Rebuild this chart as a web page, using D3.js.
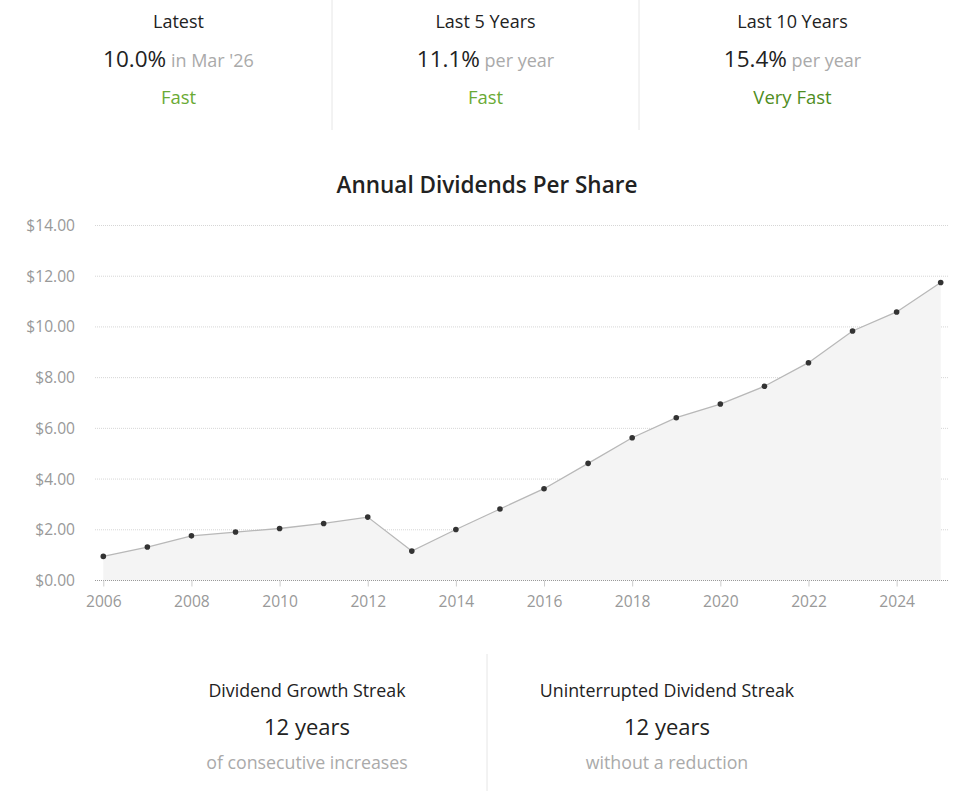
<!DOCTYPE html>
<html>
<head>
<meta charset="utf-8">
<script src="https://cdn.jsdelivr.net/npm/d3@7"></script>
<style>
  body { margin: 0; background: #fff; font-family: "Open Sans", sans-serif; }
</style>
</head>
<body>
<div id="chart"></div>
<script>
// Data
var years = [2006, 2007, 2008, 2009, 2010, 2011, 2012, 2013, 2014, 2015, 2016, 2017, 2018, 2019, 2020, 2021, 2022, 2023, 2024, 2025];
var dividends = [0.95, 1.32, 1.76, 1.91, 2.05, 2.25, 2.50, 1.16, 2.01, 2.82, 3.62, 4.62, 5.63, 6.42, 6.96, 7.66, 8.59, 9.84, 10.59, 11.75];
var yTicks = [0, 2, 4, 6, 8, 10, 12, 14];
var xTicks = [2006, 2008, 2010, 2012, 2014, 2016, 2018, 2020, 2022, 2024];

var statLabels = ["Latest", "Last 5 Years", "Last 10 Years"];
var statValues = ["10.0%", "11.1%", "15.4%"];
var statNotes = ["in Mar '26", "per year", "per year"];
var statRatings = ["Fast", "Fast", "Very Fast"];

var streakLabels = ["Dividend Growth Streak", "Uninterrupted Dividend Streak"];
var streakValues = ["12 years", "12 years"];
var streakNotes = ["of consecutive increases", "without a reduction"];

var width = 957, height = 791;
var ratingColor = {"Fast": "#6aaa35", "Very Fast": "#4f8d22"};

var svg = d3.select("#chart").append("svg")
    .attr("width", width)
    .attr("height", height)
    .style("font-family", "'Open Sans', sans-serif");

// Top stat boxes
var statX = d3.scaleBand().domain(statLabels).range([25, 946]);

svg.selectAll(".stat-divider")
    .data(statLabels.slice(1))
  .enter().append("line")
    .attr("x1", function(d) { return statX(d); })
    .attr("x2", function(d) { return statX(d); })
    .attr("y1", 0)
    .attr("y2", 130)
    .attr("stroke", "#e6e6e6");

var stat = svg.selectAll(".stat")
    .data(statLabels)
  .enter().append("g")
    .attr("transform", function(d) { return "translate(" + (statX(d) + statX.bandwidth() / 2) + ",0)"; });

stat.append("text")
    .attr("y", 28)
    .attr("text-anchor", "middle")
    .style("font-size", "18px")
    .style("fill", "#222")
    .text(function(d) { return d; });

var valText = stat.append("text")
    .attr("y", 67)
    .attr("text-anchor", "middle");
valText.append("tspan")
    .style("font-size", "22.5px")
    .style("fill", "#222")
    .text(function(d, i) { return statValues[i]; });
valText.append("tspan")
    .style("font-size", "18px")
    .style("fill", "#aaa")
    .text(function(d, i) { return " " + statNotes[i]; });

stat.append("text")
    .attr("y", 104)
    .attr("text-anchor", "middle")
    .style("font-size", "18.5px")
    .style("fill", function(d, i) { return ratingColor[statRatings[i]]; })
    .text(function(d, i) { return statRatings[i]; });

// Chart title
svg.append("text")
    .attr("x", 487)
    .attr("y", 193)
    .attr("text-anchor", "middle")
    .style("font-size", "22.5px")
    .style("font-weight", "600")
    .style("fill", "#222")
    .text("Annual Dividends Per Share");

// Chart
var x = d3.scaleLinear().domain([2006, 2025]).range([103.3, 940.7]);
var y = d3.scaleLinear().domain([0, 14]).range([580.5, 225.5]);
var plotLeft = 95, plotRight = 948;

var grid = svg.append("g");
grid.selectAll("line")
    .data(yTicks.slice(1))
  .enter().append("line")
    .attr("x1", plotLeft)
    .attr("x2", plotRight)
    .attr("y1", function(d) { return y(d); })
    .attr("y2", function(d) { return y(d); })
    .attr("stroke", "#d6d6d6")
    .attr("stroke-dasharray", "1,1");

var points = years.map(function(yr, i) { return {year: yr, value: dividends[i]}; });

var area = d3.area()
    .x(function(d) { return x(d.year); })
    .y0(y(0))
    .y1(function(d) { return y(d.value); });

var line = d3.line()
    .x(function(d) { return x(d.year); })
    .y(function(d) { return y(d.value); });

svg.append("path")
    .datum(points)
    .attr("d", area)
    .attr("fill", "#f4f4f4");

svg.append("path")
    .datum(points)
    .attr("d", line)
    .attr("fill", "none")
    .attr("stroke", "#b8b8b8")
    .attr("stroke-width", 1.3);

// y labels
svg.append("g").selectAll("text")
    .data(yTicks)
  .enter().append("text")
    .attr("x", 75)
    .attr("y", function(d) { return y(d); })
    .attr("dy", "0.35em")
    .attr("text-anchor", "end")
    .style("font-size", "15.6px")
    .style("fill", "#999")
    .text(function(d) { return "$" + d.toFixed(2); });

// x axis
var xAxis = svg.append("g")
    .attr("transform", "translate(0," + y(0) + ")")
    .call(d3.axisBottom(x).tickValues(xTicks).tickFormat(d3.format("d")).tickSize(6).tickSizeOuter(0));
xAxis.select(".domain")
    .attr("d", "M" + plotLeft + ",0H" + plotRight)
    .attr("stroke", "#999")
    .attr("stroke-dasharray", "1,1");
xAxis.selectAll(".tick line").attr("stroke", "#ccc");
xAxis.selectAll(".tick text")
    .attr("y", 15)
    .style("font-size", "15.6px")
    .style("font-family", "'Open Sans', sans-serif")
    .style("fill", "#999");

svg.append("g").selectAll("circle")
    .data(points)
  .enter().append("circle")
    .attr("cx", function(d) { return x(d.year); })
    .attr("cy", function(d) { return y(d.value); })
    .attr("r", 2.8)
    .attr("fill", "#333");

// Bottom streak boxes
var streakX = d3.scaleBand().domain(streakLabels).range([127, 847]);

svg.append("line")
    .attr("x1", streakX(streakLabels[1]))
    .attr("x2", streakX(streakLabels[1]))
    .attr("y1", 654)
    .attr("y2", 791)
    .attr("stroke", "#e6e6e6");

var streak = svg.selectAll(".streak")
    .data(streakLabels)
  .enter().append("g")
    .attr("transform", function(d) { return "translate(" + (streakX(d) + streakX.bandwidth() / 2) + ",0)"; });

streak.append("text")
    .attr("y", 697)
    .attr("text-anchor", "middle")
    .style("font-size", "17.8px")
    .style("fill", "#222")
    .text(function(d) { return d; });

streak.append("text")
    .attr("y", 735)
    .attr("text-anchor", "middle")
    .style("font-size", "22px")
    .style("fill", "#222")
    .text(function(d, i) { return streakValues[i]; });

streak.append("text")
    .attr("y", 769)
    .attr("text-anchor", "middle")
    .style("font-size", "17.8px")
    .style("fill", "#aaa")
    .text(function(d, i) { return streakNotes[i]; });
</script>
</body>
</html>
